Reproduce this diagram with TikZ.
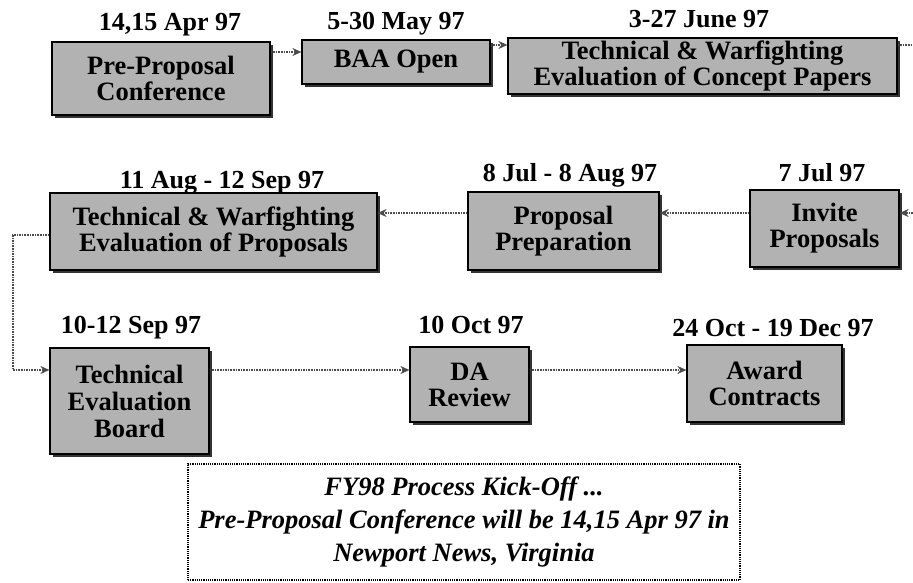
\documentclass[tikz,border=0pt]{standalone}
\usepackage{fontspec}
\setmainfont{Liberation Serif}
\usetikzlibrary{arrows.meta,shadows}

\begin{document}
\begin{tikzpicture}
[x=1pt,y=-1pt,
 every node/.style={font=\bfseries\fontsize{26.5}{26}\selectfont,align=center,inner sep=0pt},
 phase/.style={draw=black,line width=1.2pt,fill=black!30,
   drop shadow={shadow xshift=3pt,shadow yshift=-3pt,fill=black!80,opacity=1}},
 when/.style={anchor=base,font=\bfseries\fontsize{26}{26}\selectfont},
 flow/.style={densely dotted,line width=1.6pt,draw=black!70,
   -{Stealth[length=9pt,width=8pt,fill=black!50]}},
 note/.style={draw=black,densely dotted,line width=1.2pt,
   font=\bfseries\itshape\fontsize{26.5}{33}\selectfont}]
\useasboundingbox (0,0) rectangle (913,583);
% boxes
\node[phase,minimum width=218pt,minimum height=73pt] (pp) at (161,78.5) {Pre-Proposal\\Conference};
\node[phase,minimum width=188pt,minimum height=44pt] (baa) at (396,62) {BAA Open};
\node[phase,minimum width=389pt,minimum height=56pt] (tcp) at (702.5,66) {Technical \& Warfighting\\Evaluation of Concept Papers};
\node[phase,minimum width=327pt,minimum height=77pt] (twp) at (213.5,231.5) {Technical \& Warfighting\\Evaluation of Proposals};
\node[phase,minimum width=191pt,minimum height=78pt] (prep) at (563.5,231) {Proposal\\Preparation};
\node[phase,minimum width=149pt,minimum height=77pt] (inv) at (824.5,228.5) {Invite\\Proposals};
\node[phase,minimum width=159pt,minimum height=106pt,font=\bfseries\fontsize{26.5}{27}\selectfont] (teb) at (129.5,401) {Technical\\Evaluation\\Board};
\node[phase,minimum width=119pt,minimum height=75pt] (da) at (469.5,384.5) {DA\\Review};
\node[phase,minimum width=155pt,minimum height=77pt] (aw) at (764.5,383.5) {Award\\Contracts};
% dates
\node[when] (d1) at (170,31) {14,15 Apr 97};
\node[when] (d2) at (396,30) {5-30 May 97};
\node[when] (d3) at (699,28) {3-27 June 97};
\node[when] (d4) at (222,188) {11 Aug - 12 Sep 97};
\node[when] (d5) at (570,182) {8 Jul - 8 Aug 97};
\node[when] (d6) at (822,182) {7 Jul 97};
\node[when] (d7) at (131,333) {10-12 Sep 97};
\node[when] (d8) at (471,333) {10 Oct 97};
\node[when] (d9) at (773,336) {24 Oct - 19 Dec 97};
% kick-off note
\node[note,minimum width=552pt,minimum height=116pt] (kick) at (464,522)
  {FY98 Process Kick-Off ...\\Pre-Proposal Conference will be 14,15 Apr 97 in\\Newport News, Virginia};
% connectors
\coordinate (rowa) at (0,52);
\coordinate (rowb) at (0,45);
\coordinate (rowc) at (0,213);
\coordinate (rowd) at (0,370);
\coordinate (outa) at (913,45);
\coordinate (outb) at (913,213);
\coordinate (bend) at (13,0);
\foreach \from/\to/\row in {pp/baa/rowa,baa/tcp/rowb,teb/da/rowd,da/aw/rowd}
  \draw[flow] (\from.east |- \row) -- (\to.west |- \row);
\foreach \from/\to in {inv/prep,prep/twp}
  \draw[flow] (\from.west |- rowc) -- (\to.east |- rowc);
\draw[flow,-] (tcp.east |- rowb) -- (outa);
\draw[flow] (outb) -- (inv.east |- rowc);
\draw[flow] ([yshift=-3.5pt]twp.west) -| (bend |- rowd) -- (teb.west |- rowd);
\end{tikzpicture}
\end{document}
